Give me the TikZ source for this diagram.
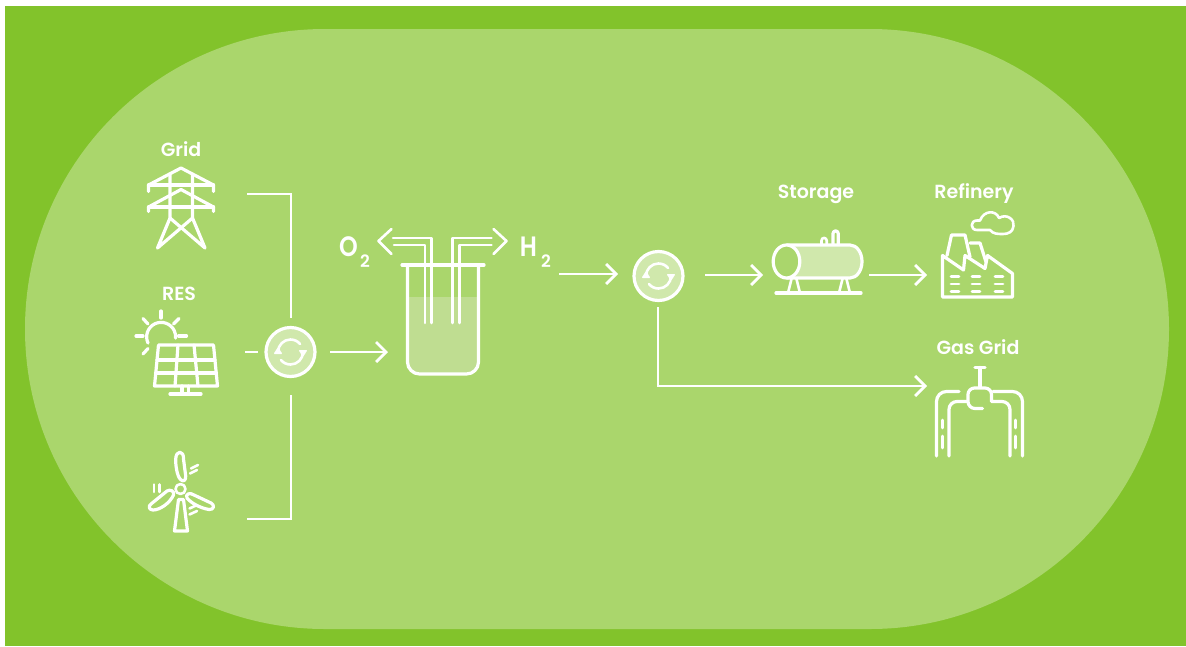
\documentclass[tikz,border=0pt]{standalone}
\usepackage{fontspec}
\setmainfont{Poppins}
\newfontfamily\rotulo{Poppins SemiBold}
\usepackage{tikz}
\usetikzlibrary{arrows.meta,positioning}
\definecolor{hojaoscura}{HTML}{82C32B}
\definecolor{hojaclara}{HTML}{AAD66C}
\definecolor{liquido}{HTML}{BFDD91}
\definecolor{relleno}{HTML}{D0E8AC}
\tikzset{
  etiqueta/.style={text=white,font=\rotulo\fontsize{19}{21}\selectfont,inner sep=0pt},
  formula/.style={text=white,font=\rotulo\fontsize{28}{30}\selectfont,inner sep=0pt,xscale=.85},
  indice/.style={text=white,font=\rotulo\fontsize{17}{18}\selectfont,inner sep=0pt},
  icono/.style={draw=white,line width=3.2pt,line cap=round,line join=round},
  tubo/.style={icono,line width=2.6pt},
  linea/.style={draw=white,line width=2.7pt,line join=miter},
  flujo/.style={linea,-{Straight Barb[length=10pt,width=20pt,line width=2.7pt]}},
  punto/.style={inner sep=0pt,minimum size=0pt},
  conversor/.style={circle,draw=white,line width=3.2pt,fill=relleno,minimum size=49pt,inner sep=0pt}
}
\begin{document}
\begin{tikzpicture}[x=1pt,y=-1pt]
\useasboundingbox (0,0) rectangle (1186,646);
\fill[white] (0,0) rectangle (1186,646);
\fill[hojaoscura] (5,6) rectangle (1186,646);
\fill[hojaclara] (325,29) -- (870,29) arc[start angle=-90,end angle=90,x radius=299,y radius=300] -- (325,629) arc[start angle=90,end angle=270,x radius=300,y radius=300] -- cycle;
% conversores
\node[conversor] (conv1) at (290.5,352) {};
\node[conversor] (conv2) at (658.5,276) {};
\foreach \c in {conv1,conv2}{
  \draw[tubo] ([shift={(-12.5,0)}]\c.center) arc[start angle=180,end angle=320,radius=12.5];
  \draw[tubo] ([shift={(12.5,0)}]\c.center) arc[start angle=0,end angle=140,radius=12.5];
  \fill[white,rounded corners=1pt] ([shift={(-17,2)}]\c.center) -- ([shift={(-8,2)}]\c.center) -- ([shift={(-12.5,-5)}]\c.center) -- cycle;
  \fill[white,rounded corners=1pt] ([shift={(17,-2)}]\c.center) -- ([shift={(8,-2)}]\c.center) -- ([shift={(12.5,5)}]\c.center) -- cycle;
}
% torre Grid
\node[punto] (torre) at (181,208) {};
\node[etiqueta,above=50.5pt of torre] (grid) {Grid};
\draw[icono] (148.5,191.5) -- (148.5,185) -- (181,168) -- (213.5,185) -- (213.5,191.5);
\draw[icono] (148.5,185) -- (213.5,185);
\draw[icono] (148.5,211.5) -- (148.5,207) -- (181,189.5) -- (213.5,207) -- (213.5,211.5);
\draw[icono] (148.5,207) -- (213.5,207);
\draw[icono] (170,175) -- (170,218) -- (157.5,248) -- (192.5,218) -- (192.5,175);
\draw[icono] (170,218) -- (205,248) -- (192.5,218);
% sol y panel RES
\node[punto] (panel) at (185,360) {};
\node[etiqueta,above=58.5pt of panel,xshift=-6pt] (res) {RES};
\draw[icono] (148,343) arc[start angle=155,end angle=365,radius=14.5];
\draw[icono] (161,311) -- (161,318);
\draw[icono] (143,318.5) -- (148,324);
\draw[icono] (179,318.5) -- (173.5,324);
\draw[icono] (136,336) -- (143,336);
\draw[icono] (178.5,336) -- (186.5,336);
\draw[icono] (143,354) -- (148,348.5);
\draw[icono] (158.5,345) -- (213.5,345) -- (217.5,386) -- (154.5,386) -- cycle;
\draw[icono] (157,360) -- (215,360);
\draw[icono] (155.5,373) -- (216.5,373);
\draw[icono] (178,345) -- (175,386);
\draw[icono] (194,345) -- (198,386);
\draw[icono] (182,386) -- (182,394);
\draw[icono] (188.5,386) -- (188.5,394);
\draw[icono] (170,394) -- (201,394);
% molino
\node[punto] (molino) at (180.5,489) {};
\draw[tubo] (molino) circle (5);
\draw[icono] (175.7,459) .. controls (176,450) and (184,450) .. (183.5,459) -- (185.7,476) .. controls (186,481) and (183,482) .. (180.5,479.5) .. controls (177,476) and (175.5,465) .. (175.7,459) -- cycle;
\draw[icono] (167,491) .. controls (170,489) and (175,491) .. (173.5,495) .. controls (170,503) and (160,510) .. (153,510) .. controls (149,510) and (148,506) .. (151,504) -- cycle;
\draw[icono] (194,495) -- (211,503) .. controls (215,505) and (214,510) .. (209,509.5) .. controls (200,508) and (191,503) .. (187,498) .. controls (185,494) and (190,492) .. (194,495) -- cycle;
\draw[icono] (178.5,499.5) -- (183.5,499.5) -- (187.5,531) -- (174.5,531) -- cycle;
\draw[tubo] (191,468.5) -- (198,465);
\draw[tubo] (190,473.5) -- (197,470);
\draw[tubo] (154,484.5) -- (154,492);
\draw[tubo] (159.5,484.5) -- (159.5,492);
\draw[tubo] (189.5,508.5) -- (197,505);
\draw[tubo] (189.5,514.5) -- (197,511);
% vaso
\node[punto] (vaso) at (443,316) {};
\fill[liquido] (407.5,297) -- (478.5,297) -- (478.5,362) arc[start angle=0,end angle=90,radius=12] -- (419.5,374) arc[start angle=90,end angle=180,radius=12] -- cycle;
\draw[icono] (402,265) -- (484,265);
\draw[icono] (407.5,265) -- (407.5,362) arc[start angle=180,end angle=90,radius=12] -- (466.5,374) arc[start angle=90,end angle=0,radius=12] -- (478.5,265);
\draw[tubo] (425,323) -- (425,245) -- (394,245);
\draw[tubo] (431.5,323) -- (431.5,238) -- (393,238);
\draw[tubo] (452.5,323) -- (452.5,238) -- (491.5,238);
\draw[tubo] (459.5,323) -- (459.5,245) -- (491.5,245);
\draw[tubo] (391.5,229) -- (378.5,241) -- (391.5,254);
\draw[tubo] (493.5,229) -- (506.5,241) -- (493.5,254);
\node[formula] (oxigeno) at (348.5,247) {O};
\node[indice] (oxi2) at (365,261.5) {2};
\node[formula] (hidro) at (528.5,247) {H};
\node[indice] (hid2) at (546,261.5) {2};
% tanque
\node[punto] (tanque) at (818,261) {};
\node[etiqueta,above=57pt of tanque,xshift=-2pt] (storage) {Storage};
\fill[relleno] (787,245) -- (850,245) arc[start angle=-90,end angle=90,x radius=12,y radius=16.5] -- (787,278) -- cycle;
\draw[icono] (787,245) -- (850,245) arc[start angle=-90,end angle=90,x radius=12,y radius=16.5] -- (787,278);
\draw[icono,fill=hojaclara] (786.5,261.5) ellipse[x radius=13.3,y radius=16.5];
\draw[tubo] (821.5,244) -- (821.5,240.5) arc[start angle=180,end angle=360,radius=2.6] -- (826.7,244);
\draw[icono] (833,244) -- (833,233.5) arc[start angle=180,end angle=360,radius=2.6] -- (838.2,244);
\draw[tubo] (791.5,279) -- (788,293);
\draw[tubo] (796.5,279) -- (800,293);
\draw[tubo] (842.5,279) -- (839,293);
\draw[tubo] (846.5,279) -- (850,293);
\draw[icono] (776,293) -- (861,293);
% refineria
\node[punto] (fabrica) at (977,265) {};
\node[etiqueta,above=61pt of fabrica,xshift=-3pt] (refineria) {Refinery};
\draw[icono] (942.5,255.5) -- (942.5,297) -- (1012.5,297) -- (1012.5,273.5) -- (987.5,255.5) -- (985,268.5) -- (965,255.5) -- (963.5,270) -- (942.5,255.5);
\draw[icono] (947,255.5) -- (951.5,235) -- (965,235) -- (970,257);
\draw[icono] (970,243) -- (980,243) -- (986,262);
\foreach \x in {955,976,999}{
  \foreach \y in {276.5,284,291.5}{
    \draw[icono,line width=2.8pt] (\x-4,\y) -- (\x+4,\y);
  }
}
\draw[tubo] (977,230) .. controls (970,230) and (970,220.5) .. (977,220.5) -- (980,220.5) .. controls (984,210) and (996,210) .. (999,218) .. controls (1007,213) and (1015,220) .. (1013.5,226) .. controls (1013,232) and (1008,234) .. (1003,234) .. controls (998,234) and (993,234) .. (990,230) -- cycle;
% valvula Gas Grid
\node[punto] (valvula) at (978,405) {};
\node[etiqueta,above=49.5pt of valvula] (gasgrid) {Gas Grid};
\draw[icono] (975,367.5) -- (985,367.5);
\draw[icono] (980,367.5) -- (980,387);
\draw[icono] (959,391.5) -- (946.5,391.5) arc[start angle=270,end angle=180,radius=10] -- (936.5,456);
\draw[icono] (967.5,401.5) -- (957,401.5) arc[start angle=270,end angle=180,radius=8] -- (949,456);
\draw[icono] (982.5,408.5) -- (975,408.5) arc[start angle=90,end angle=180,radius=7] -- (968,394.5) arc[start angle=180,end angle=270,radius=6.5] -- (985,388) arc[start angle=270,end angle=360,radius=6.5] -- (991.5,401.5) -- (1002,401.5) arc[start angle=270,end angle=360,radius=8] -- (1010,456);
\draw[icono] (993,391.5) -- (1012.5,391.5) arc[start angle=270,end angle=360,radius=10] -- (1022.5,456);
\draw[tubo] (942.5,420) -- (942.5,428);
\draw[tubo] (942.5,436) -- (942.5,448);
\draw[tubo] (1015.5,420) -- (1015.5,428);
\draw[tubo] (1015.5,436) -- (1015.5,448);
% conectores
\coordinate (g0) at (247,194);
\coordinate (g1) at (291,318);
\coordinate (w0) at (247,519);
\coordinate (w1) at (291,395);
\coordinate (p0) at (245,352);
\coordinate (p1) at (258,352);
\coordinate (c1) at (330,352);
\coordinate (c2) at (388,352);
\coordinate (h1) at (559,274);
\coordinate (h2) at (618,274);
\coordinate (s1) at (705,275);
\coordinate (s2) at (763,275);
\coordinate (r1) at (869,275);
\coordinate (r2) at (927,275);
\coordinate (v1) at (658,307);
\coordinate (v2) at (927,386);
\draw[linea] (g0) -| (g1);
\draw[linea] (w0) -| (w1);
\draw[linea] (p0) -- (p1);
\draw[flujo] (c1) -- (c2);
\draw[flujo] (h1) -- (h2);
\draw[flujo] (s1) -- (s2);
\draw[flujo] (r1) -- (r2);
\draw[flujo] (v1) |- (v2);
\end{tikzpicture}
\end{document}
